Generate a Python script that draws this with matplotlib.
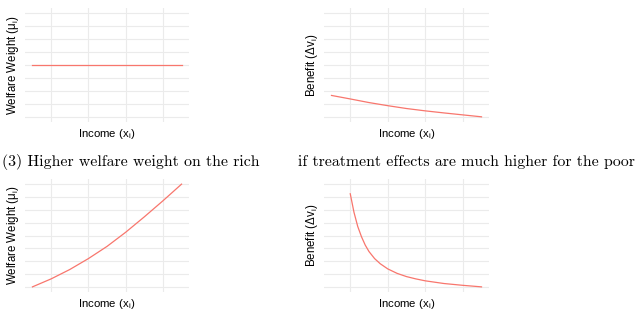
"""Welfare weight and benefit panels by income."""

import matplotlib.pyplot as plt

# Values (gridlines at 0..8 on each y axis).
income = [10, 20, 30, 40, 50, 60, 70, 80, 90]
welfare_flat = [4, 4, 4, 4, 4, 4, 4, 4, 4]
benefit_mild = [1.65, 1.38, 1.1, 0.86, 0.64, 0.46, 0.3, 0.15, 0.0]
welfare_rich = [0.0, 0.62, 1.35, 2.2, 3.15, 4.25, 5.45, 6.7, 8.0]

income_poor = [20, 22, 24, 26, 28, 30, 33, 36, 40, 45, 50, 55, 60, 70, 80, 90]
benefit_poor = [7.25, 5.8, 4.7, 3.9, 3.25, 2.75, 2.2, 1.8, 1.4, 1.05, 0.8,
                0.62, 0.47, 0.26, 0.12, 0.0]

x_breaks = [20, 40, 60, 80]
y_breaks = [0, 1, 2, 3, 4, 5, 6, 7, 8]

titles = ["(3) Higher welfare weight on the rich",
          "if treatment effects are much higher for the poor"]
x_label = r"Income ($\mathrm{x_i}$)"
weight_label = r"Welfare Weight ($\mathrm{\mu_i}$)"
benefit_label = r"Benefit ($\mathrm{\Delta v_i}$)"

LINE_COLOR = "#F8766D"
GRID_COLOR = "#EBEBEB"

plt.rcParams["mathtext.fontset"] = "custom"
plt.rcParams["mathtext.rm"] = "Liberation Sans"
plt.rcParams["font.family"] = ["Liberation Sans", "DejaVu Sans"]

W, H = 640, 311
fig = plt.figure(figsize=(W / 100, H / 100), dpi=100)


def _panel(left, top, right, bottom):
    """Add axes from pixel box (origin top-left)."""
    return fig.add_axes([left / W, (H - bottom) / H,
                         (right - left) / W, (bottom - top) / H])


def _style(ax, y_label):
    ax.set_xlim(6, 94)
    ax.set_ylim(-0.4, 8.4)
    ax.set_xticks(x_breaks)
    ax.set_yticks(y_breaks)
    ax.tick_params(length=0, labelbottom=False, labelleft=False)
    ax.grid(True, color=GRID_COLOR, linewidth=0.8)
    ax.set_axisbelow(True)
    for spine in ax.spines.values():
        spine.set_visible(False)
    ax.set_xlabel(x_label, fontsize=8.2, va="center")
    ax.xaxis.set_label_coords(0.5, -0.105)
    ax.set_ylabel(y_label, fontsize=8.3, va="center")
    ax.yaxis.set_label_coords(-0.073, 0.5)


panels = [
    (_panel(25, 8, 189, 122), income, welfare_flat, weight_label),
    (_panel(324, 8, 489, 122), income, benefit_mild, benefit_label),
    (_panel(25, 179, 189, 292), income, welfare_rich, weight_label),
    (_panel(324, 179, 489, 292), income_poor, benefit_poor, benefit_label),
]

for ax, xs, ys, y_label in panels:
    ax.plot(xs, ys, color=LINE_COLOR, linewidth=0.9)
    _style(ax, y_label)

fig.text(2 / W, (H - 166) / H, titles[0], family="cmr10",
         fontsize=11.4, va="baseline", ha="left")
fig.text(298 / W, (H - 166) / H, titles[1], family="cmr10",
         fontsize=11.4, va="baseline", ha="left")

fig.savefig("out.png", dpi=100)
